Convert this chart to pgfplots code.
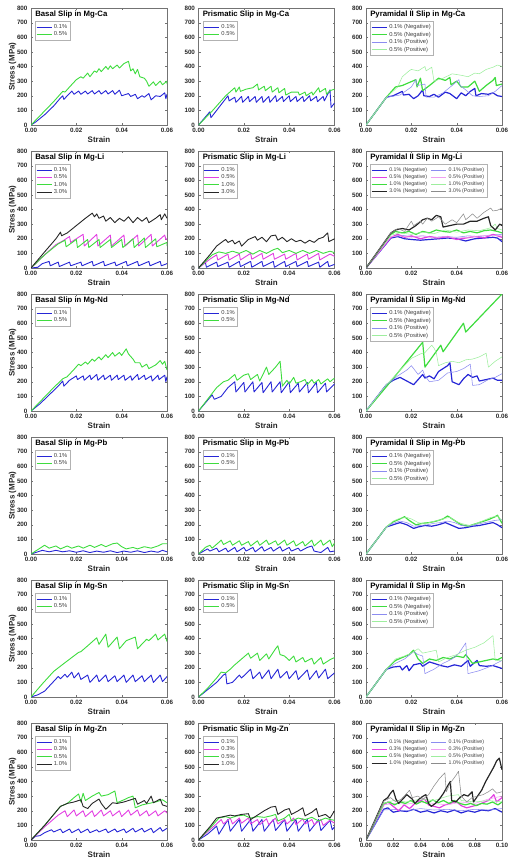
\documentclass[border=0pt]{standalone}
\usepackage{fontspec}
\setmainfont{Liberation Sans}
\usepackage{pgfplots}
\pgfplotsset{compat=1.18}
\usepgfplotslibrary{groupplots}
\definecolor{bluA}{HTML}{2626D6}
\definecolor{grnA}{HTML}{3EDC3E}
\definecolor{magA}{HTML}{E23FE2}
\definecolor{blkA}{HTML}{262626}
\definecolor{bluL}{HTML}{8C8CF0}
\definecolor{grnL}{HTML}{9EEE9E}
\definecolor{magL}{HTML}{F0A0F0}
\definecolor{blkL}{HTML}{8C8C8C}
\pgfplotsset{
  S/.style={line width=0.9bp},
  N/.style={line width=1.2bp},
  P/.style={line width=0.55bp},
}
\begin{document}
\begin{tikzpicture}
\begin{groupplot}[
  group style={group size=3 by 6, horizontal sep=31.5bp, vertical sep=26bp},
  scale only axis, width=136bp, height=117bp,
  xmin=0, xmax=0.06, ymin=0, ymax=800,
  xtick={0,0.02,0.04,0.06}, ytick={0,100,...,800},
  scaled x ticks=false,
  /pgf/number format/assume math mode=true,
  xticklabel style={/pgf/number format/fixed, /pgf/number format/fixed zerofill, /pgf/number format/precision=2},
  tick label style={font=\fontsize{6.3}{7}\bfseries\selectfont, text=black!85},
  xlabel={Strain},
  xlabel style={font=\fontsize{8}{9}\bfseries\selectfont, text=black!85, yshift=3bp},
  ylabel style={font=\fontsize{8}{9}\bfseries\selectfont, text=black!85, yshift=-6bp},
  axis line style={black!55}, tick style={black!55}, tick align=inside, major tick length=2bp,
  every axis title shift=0pt,
  title style={at={(0.03,0.975)}, anchor=north west, font=\fontsize{7.8}{8.5}\bfseries\selectfont, inner sep=0pt},
  legend style={at={(0.03,0.885)}, anchor=north west, draw=black!30, font=\fontsize{5.8}{6.4}\selectfont, text=black!75, inner sep=0.8bp, row sep=-2.2bp},
  legend cell align=left,
  legend image code/.code={\draw[#1] (0bp,0bp) -- (15bp,0bp);},
  no markers, every axis plot/.append style={line join=round},
]
% ---------------- Row 1: Mg-Ca ----------------
\nextgroupplot[title={Basal Slip in Mg-Ca}, ylabel={Stress (MPa)}]
\addplot[S,bluA] coordinates {(0,0)(0.002,20)(0.006,70)(0.010,130)(0.013,185)(0.014,200)(0.0145,175)(0.016,200)(0.018,232)(0.019,210)(0.021,232)(0.022,210)(0.024,232)(0.025,212)(0.027,235)(0.028,212)(0.030,235)(0.031,212)(0.033,235)(0.034,212)(0.036,235)(0.037,210)(0.039,238)(0.040,200)(0.043,215)(0.044,195)(0.046,210)(0.047,180)(0.049,200)(0.050,190)(0.052,215)(0.053,172)(0.055,200)(0.057,195)(0.059,220)(0.0595,180)(0.06,210)};
\addplot[S,grnA] coordinates {(0,0)(0.005,80)(0.010,160)(0.014,230)(0.015,225)(0.017,260)(0.020,310)(0.022,330)(0.023,320)(0.025,355)(0.026,330)(0.028,370)(0.029,360)(0.030,385)(0.031,365)(0.033,400)(0.034,380)(0.035,405)(0.036,385)(0.038,410)(0.039,390)(0.041,420)(0.043,435)(0.044,370)(0.045,385)(0.046,350)(0.047,380)(0.048,330)(0.050,320)(0.051,300)(0.052,265)(0.054,295)(0.055,270)(0.057,300)(0.058,275)(0.060,300)(0.060,280)};
\legend{0.1\%,0.5\%}
\nextgroupplot[title={Prismatic Slip in Mg-Ca}]
\addplot[S,bluA] coordinates {(0,0)(0.005,90)(0.0055,50)(0.009,120)(0.013,200)(0.0135,165)(0.016,190)(0.0165,155)(0.019,195)(0.0195,155)(0.022,195)(0.0225,160)(0.025,195)(0.0255,155)(0.028,195)(0.0285,155)(0.031,195)(0.0315,155)(0.034,200)(0.0345,160)(0.037,195)(0.0375,160)(0.040,200)(0.0405,160)(0.043,195)(0.0435,160)(0.046,195)(0.0465,160)(0.049,200)(0.0495,165)(0.052,195)(0.0525,160)(0.055,195)(0.0555,165)(0.058,240)(0.0585,120)(0.06,150)};
\addplot[S,grnA] coordinates {(0,0)(0.006,95)(0.012,200)(0.016,255)(0.0165,225)(0.018,260)(0.0185,230)(0.021,245)(0.024,255)(0.026,280)(0.0265,240)(0.029,265)(0.0295,235)(0.032,265)(0.0325,225)(0.035,255)(0.0355,220)(0.038,250)(0.0385,205)(0.041,225)(0.044,225)(0.0445,205)(0.047,225)(0.0475,200)(0.050,225)(0.0505,205)(0.053,255)(0.0535,225)(0.056,250)(0.0565,210)(0.058,235)(0.060,245)};
\legend{0.1\%,0.5\%}
\nextgroupplot[title={Pyramidal II Slip in Mg-Ca}]
\addplot[N,bluA] coordinates {(0,0)(0.009,190)(0.012,200)(0.016,230)(0.0165,205)(0.019,210)(0.021,180)(0.023,200)(0.025,240)(0.0255,200)(0.028,195)(0.030,210)(0.032,190)(0.035,225)(0.037,215)(0.040,180)(0.042,220)(0.044,200)(0.046,230)(0.048,250)(0.0485,200)(0.051,215)(0.054,210)(0.056,220)(0.058,200)(0.060,195)};
\addplot[N,grnA] coordinates {(0,0)(0.009,190)(0.013,260)(0.016,270)(0.019,290)(0.022,310)(0.0225,260)(0.024,320)(0.025,235)(0.028,270)(0.030,295)(0.032,320)(0.035,305)(0.037,325)(0.0375,275)(0.040,300)(0.042,260)(0.045,260)(0.048,300)(0.050,230)(0.053,270)(0.056,305)(0.057,325)(0.0575,270)(0.060,280)};
\addplot[P,bluL] coordinates {(0,0)(0.009,190)(0.015,205)(0.020,260)(0.022,310)(0.0225,270)(0.026,280)(0.0265,190)(0.030,190)(0.034,220)(0.038,270)(0.041,310)(0.0415,270)(0.044,240)(0.047,200)(0.050,195)(0.054,200)(0.057,230)(0.060,270)};
\addplot[P,grnL] coordinates {(0,0)(0.009,190)(0.014,260)(0.016,330)(0.019,370)(0.020,380)(0.023,370)(0.026,400)(0.0265,370)(0.029,395)(0.030,300)(0.034,320)(0.038,350)(0.042,340)(0.045,330)(0.048,355)(0.050,350)(0.053,380)(0.056,395)(0.058,410)(0.060,400)};
\legend{0.1\% (Negative),0.5\% (Negative),0.1\% (Positive),0.5\% (Positive)}
% ---------------- Row 2: Mg-Li ----------------
\nextgroupplot[title={Basal Slip in Mg-Li}, ylabel={Stress (MPa)}]
\addplot[S,bluA] coordinates {(0,0)(0.003,5)(0.005,30)(0.007,40)(0.008,45)(0.0085,15)(0.012,40)(0.0125,10)(0.017,40)(0.0175,15)(0.022,40)(0.0225,15)(0.027,45)(0.0275,15)(0.032,45)(0.0325,15)(0.037,40)(0.0375,15)(0.042,45)(0.0425,15)(0.047,45)(0.0475,15)(0.052,45)(0.0525,15)(0.057,45)(0.0575,15)(0.06,30)};
\addplot[S,magA] coordinates {(0,0)(0.006,90)(0.011,160)(0.014,185)(0.017,215)(0.0175,175)(0.020,200)(0.023,230)(0.0235,150)(0.029,230)(0.0295,150)(0.035,225)(0.0355,150)(0.041,225)(0.0415,150)(0.047,225)(0.0475,150)(0.053,230)(0.0535,150)(0.059,225)(0.0595,195)(0.06,200)};
\addplot[S,grnA] coordinates {(0,0)(0.006,90)(0.012,165)(0.015,190)(0.0155,145)(0.020,195)(0.0205,140)(0.025,195)(0.0255,140)(0.030,195)(0.0305,140)(0.035,195)(0.0355,140)(0.040,195)(0.0405,140)(0.045,200)(0.0455,140)(0.050,205)(0.0505,140)(0.055,200)(0.0555,145)(0.06,175)(0.06,150)};
\addplot[S,blkA] coordinates {(0,0)(0.006,110)(0.011,200)(0.013,245)(0.0135,220)(0.016,240)(0.020,290)(0.024,340)(0.027,375)(0.028,350)(0.029,370)(0.030,340)(0.032,355)(0.033,320)(0.035,345)(0.037,310)(0.039,340)(0.041,320)(0.043,350)(0.045,310)(0.047,345)(0.049,320)(0.051,345)(0.052,310)(0.055,340)(0.057,365)(0.0575,330)(0.059,370)(0.06,340)};
\legend{0.1\%,0.5\%,1.0\%,3.0\%}
\nextgroupplot[title={Prismatic Slip in Mg-Li}]
\addplot[S,bluA] coordinates {(0,0)(0.003,40)(0.0035,5)(0.008,40)(0.0085,10)(0.013,40)(0.0135,5)(0.018,45)(0.0185,10)(0.023,45)(0.0235,5)(0.028,45)(0.0285,10)(0.033,45)(0.0335,5)(0.038,45)(0.0385,10)(0.043,45)(0.0435,10)(0.048,45)(0.0485,10)(0.053,40)(0.0535,5)(0.057,45)(0.0575,10)(0.06,25)};
\addplot[S,magA] coordinates {(0,0)(0.005,60)(0.008,90)(0.0085,55)(0.013,95)(0.0135,55)(0.018,95)(0.0185,55)(0.023,100)(0.0235,60)(0.028,100)(0.0285,60)(0.033,100)(0.0335,60)(0.038,95)(0.0385,60)(0.043,100)(0.0435,55)(0.048,95)(0.0485,60)(0.053,100)(0.0535,55)(0.058,95)(0.06,80)};
\addplot[S,grnA] coordinates {(0,0)(0.006,90)(0.009,110)(0.012,100)(0.015,115)(0.018,100)(0.021,120)(0.024,95)(0.027,120)(0.030,100)(0.033,125)(0.035,135)(0.037,105)(0.040,120)(0.043,100)(0.046,120)(0.049,100)(0.052,120)(0.055,100)(0.058,115)(0.06,105)};
\addplot[S,blkA] coordinates {(0,0)(0.005,90)(0.008,150)(0.011,185)(0.012,195)(0.013,175)(0.015,190)(0.016,165)(0.018,185)(0.019,150)(0.022,195)(0.025,215)(0.026,190)(0.028,210)(0.030,180)(0.032,220)(0.034,225)(0.035,190)(0.037,210)(0.039,180)(0.041,200)(0.043,180)(0.045,190)(0.047,170)(0.049,190)(0.051,175)(0.053,200)(0.055,210)(0.057,240)(0.0575,180)(0.06,200)};
\legend{0.1\%,0.5\%,1.0\%,3.0\%}
\nextgroupplot[title={Pyramidal II Slip in Mg-Li}, legend columns=2, legend style={font=\fontsize{5.3}{6}\selectfont, /tikz/every even column/.append style={column sep=2bp}}]
\addplot[N,bluA] coordinates {(0,0)(0.011,205)(0.014,215)(0.017,200)(0.020,195)(0.024,190)(0.028,195)(0.032,200)(0.036,205)(0.040,200)(0.044,185)(0.048,200)(0.052,205)(0.056,210)(0.058,205)(0.06,180)};
\addplot[P,bluL] coordinates {(0,0)(0.011,210)(0.015,225)(0.020,215)(0.025,220)(0.030,210)(0.035,215)(0.040,210)(0.045,220)(0.050,215)(0.055,225)(0.06,230)};
\addplot[N,magA] coordinates {(0,0)(0.011,210)(0.014,230)(0.017,210)(0.020,220)(0.024,200)(0.028,215)(0.032,205)(0.036,215)(0.040,195)(0.044,205)(0.048,215)(0.052,205)(0.056,230)(0.06,210)};
\addplot[P,magL] coordinates {(0,0)(0.011,215)(0.015,220)(0.020,210)(0.025,220)(0.030,205)(0.035,215)(0.040,205)(0.045,210)(0.050,220)(0.055,225)(0.06,220)};
\addplot[N,grnA] coordinates {(0,0)(0.011,230)(0.013,250)(0.016,240)(0.019,250)(0.022,230)(0.025,250)(0.028,240)(0.031,260)(0.034,250)(0.037,245)(0.040,260)(0.043,240)(0.046,250)(0.049,240)(0.052,255)(0.055,260)(0.058,250)(0.06,240)};
\addplot[P,grnL] coordinates {(0,0)(0.011,225)(0.015,240)(0.020,230)(0.025,245)(0.030,235)(0.035,260)(0.040,245)(0.045,260)(0.050,255)(0.055,275)(0.057,300)(0.058,270)(0.06,260)};
\addplot[N,blkA] coordinates {(0,0)(0.011,240)(0.013,260)(0.016,270)(0.019,260)(0.022,290)(0.025,330)(0.027,340)(0.029,330)(0.031,360)(0.033,350)(0.034,280)(0.037,290)(0.040,300)(0.043,300)(0.046,320)(0.049,320)(0.052,340)(0.054,350)(0.055,290)(0.057,260)(0.059,300)(0.06,290)};
\addplot[P,blkL] coordinates {(0,0)(0.011,240)(0.014,270)(0.017,250)(0.020,320)(0.021,290)(0.024,320)(0.025,300)(0.027,340)(0.029,320)(0.032,350)(0.035,300)(0.038,330)(0.040,310)(0.043,370)(0.044,330)(0.047,370)(0.049,340)(0.052,380)(0.055,410)(0.056,390)(0.058,395)(0.06,410)};
\legend{0.1\% (Negative),0.1\% (Positive),0.5\% (Negative),0.5\% (Positive),1.0\% (Negative),1.0\% (Positive),3.0\% (Negative),3.0\% (Positive)}
% ---------------- Row 3: Mg-Nd ----------------
\nextgroupplot[title={Basal Slip in Mg-Nd}, ylabel={Stress (MPa)}]
\addplot[S,bluA] coordinates {(0,0)(0.004,50)(0.008,110)(0.012,170)(0.014,205)(0.0145,170)(0.017,210)(0.020,240)(0.0205,215)(0.023,240)(0.0235,210)(0.026,245)(0.0265,215)(0.029,250)(0.0295,210)(0.032,245)(0.0325,215)(0.035,245)(0.0355,210)(0.038,245)(0.0385,215)(0.041,245)(0.0415,210)(0.044,240)(0.0445,210)(0.047,250)(0.0475,215)(0.050,245)(0.0505,215)(0.053,240)(0.0535,205)(0.056,245)(0.0565,215)(0.059,245)(0.0595,200)(0.06,235)};
\addplot[S,grnA] coordinates {(0,0)(0.005,80)(0.010,160)(0.014,220)(0.016,235)(0.019,285)(0.021,320)(0.022,310)(0.024,335)(0.025,320)(0.027,355)(0.028,340)(0.030,370)(0.031,350)(0.033,385)(0.034,365)(0.036,400)(0.037,375)(0.039,400)(0.040,380)(0.042,425)(0.043,390)(0.045,355)(0.046,330)(0.048,330)(0.049,300)(0.051,320)(0.052,290)(0.055,315)(0.057,345)(0.058,320)(0.059,340)(0.06,280)};
\legend{0.1\%,0.5\%}
\nextgroupplot[title={Prismatic Slip in Mg-Nd}]
\addplot[S,bluA] coordinates {(0,0)(0.006,110)(0.007,80)(0.010,100)(0.013,160)(0.016,200)(0.0165,130)(0.020,195)(0.0205,130)(0.024,200)(0.0245,130)(0.028,195)(0.0285,125)(0.032,200)(0.0325,130)(0.036,200)(0.0365,125)(0.040,200)(0.0405,125)(0.044,190)(0.0445,130)(0.048,195)(0.0485,125)(0.052,195)(0.0525,125)(0.056,190)(0.0565,130)(0.06,185)};
\addplot[S,grnA] coordinates {(0,0)(0.005,100)(0.008,160)(0.011,200)(0.013,210)(0.016,250)(0.017,210)(0.020,245)(0.022,255)(0.023,215)(0.026,250)(0.027,205)(0.030,300)(0.031,250)(0.034,300)(0.036,340)(0.037,170)(0.039,210)(0.040,185)(0.042,230)(0.043,190)(0.045,200)(0.047,215)(0.048,180)(0.050,215)(0.051,190)(0.053,215)(0.054,185)(0.057,220)(0.058,200)(0.06,225)};
\legend{0.1\%,0.5\%}
\nextgroupplot[title={Pyramidal II Slip in Mg-Nd}]
\addplot[N,bluA] coordinates {(0,0)(0.009,180)(0.012,210)(0.015,230)(0.018,205)(0.021,180)(0.023,215)(0.025,250)(0.026,225)(0.028,240)(0.030,220)(0.032,270)(0.034,290)(0.036,310)(0.037,330)(0.038,200)(0.041,180)(0.043,220)(0.045,250)(0.047,230)(0.049,240)(0.050,205)(0.053,215)(0.056,225)(0.058,210)(0.06,210)};
\addplot[N,grnA] coordinates {(0,0)(0.010,185)(0.025,470)(0.026,300)(0.033,450)(0.034,405)(0.043,600)(0.044,540)(0.060,800)};
\addplot[P,bluL] coordinates {(0,0)(0.009,180)(0.014,240)(0.018,280)(0.020,310)(0.021,290)(0.023,250)(0.025,280)(0.026,240)(0.028,200)(0.032,210)(0.036,260)(0.040,270)(0.043,290)(0.046,320)(0.047,175)(0.050,180)(0.054,215)(0.057,230)(0.06,255)};
\addplot[P,grnL] coordinates {(0,0)(0.009,180)(0.020,360)(0.024,390)(0.026,400)(0.029,450)(0.030,430)(0.031,400)(0.032,310)(0.035,330)(0.038,340)(0.041,330)(0.044,350)(0.047,355)(0.050,370)(0.053,395)(0.054,300)(0.057,340)(0.06,370)};
\legend{0.1\% (Negative),0.5\% (Negative),0.1\% (Positive),0.5\% (Positive)}
% ---------------- Row 4: Mg-Pb ----------------
\nextgroupplot[title={Basal Slip in Mg-Pb}, ylabel={Stress (MPa)}]
\addplot[S,bluA] coordinates {(0,0)(0.003,15)(0.005,25)(0.008,15)(0.011,25)(0.014,15)(0.017,22)(0.020,12)(0.023,22)(0.026,10)(0.029,20)(0.032,12)(0.035,22)(0.038,10)(0.041,20)(0.044,12)(0.047,22)(0.050,10)(0.053,20)(0.056,12)(0.058,25)(0.06,15)};
\addplot[S,grnA] coordinates {(0,0)(0.004,40)(0.006,60)(0.008,40)(0.011,55)(0.013,35)(0.016,55)(0.018,40)(0.021,55)(0.023,40)(0.026,60)(0.028,45)(0.031,65)(0.033,50)(0.036,70)(0.038,75)(0.040,50)(0.042,35)(0.045,45)(0.047,35)(0.050,50)(0.053,40)(0.056,55)(0.058,70)(0.06,70)};
\legend{0.1\%,0.5\%}
\nextgroupplot[title={Prismatic Slip in Mg-Pb}]
\addplot[S,bluA] coordinates {(0,0)(0.004,35)(0.005,20)(0.008,40)(0.009,15)(0.012,40)(0.013,15)(0.016,45)(0.017,15)(0.020,45)(0.021,20)(0.024,45)(0.025,15)(0.028,50)(0.029,20)(0.032,45)(0.033,20)(0.036,50)(0.037,20)(0.040,45)(0.041,20)(0.044,40)(0.045,20)(0.048,45)(0.050,55)(0.051,20)(0.054,10)(0.057,45)(0.058,15)(0.06,20)};
\addplot[S,grnA] coordinates {(0,0)(0.003,45)(0.005,60)(0.006,40)(0.009,80)(0.010,95)(0.011,65)(0.014,90)(0.015,60)(0.018,90)(0.019,60)(0.022,85)(0.023,55)(0.026,90)(0.027,60)(0.030,95)(0.031,65)(0.034,90)(0.035,60)(0.038,95)(0.039,60)(0.042,90)(0.043,55)(0.046,85)(0.047,55)(0.050,95)(0.051,55)(0.054,95)(0.055,60)(0.058,95)(0.059,50)(0.06,75)};
\legend{0.1\%,0.5\%}
\nextgroupplot[title={Pyramidal II Slip in Mg-Pb}]
\addplot[N,bluA] coordinates {(0,0)(0.009,185)(0.012,200)(0.015,215)(0.018,200)(0.021,175)(0.023,185)(0.026,195)(0.029,190)(0.032,200)(0.035,215)(0.038,195)(0.041,175)(0.044,180)(0.047,190)(0.050,195)(0.053,205)(0.056,215)(0.058,200)(0.06,180)};
\addplot[N,grnA] coordinates {(0,0)(0.009,185)(0.012,220)(0.015,240)(0.017,255)(0.019,230)(0.022,200)(0.025,210)(0.028,215)(0.031,225)(0.034,240)(0.036,260)(0.039,230)(0.042,200)(0.045,190)(0.048,205)(0.051,220)(0.054,235)(0.057,255)(0.058,265)(0.06,210)};
\addplot[P,bluL] coordinates {(0,0)(0.009,185)(0.012,210)(0.015,225)(0.018,215)(0.021,190)(0.024,195)(0.027,200)(0.030,210)(0.033,215)(0.036,225)(0.039,215)(0.042,195)(0.045,190)(0.048,200)(0.051,210)(0.054,220)(0.057,230)(0.06,235)};
\addplot[P,grnL] coordinates {(0,0)(0.009,185)(0.012,225)(0.015,245)(0.018,250)(0.020,240)(0.023,215)(0.026,205)(0.029,220)(0.032,230)(0.035,245)(0.037,250)(0.040,220)(0.043,205)(0.046,195)(0.049,210)(0.052,230)(0.055,250)(0.058,260)(0.06,230)};
\legend{0.1\% (Negative),0.5\% (Negative),0.1\% (Positive),0.5\% (Positive)}
% ---------------- Row 5: Mg-Sn ----------------
\nextgroupplot[title={Basal Slip in Mg-Sn}, ylabel={Stress (MPa)}]
\addplot[S,bluA] coordinates {(0,0)(0.003,15)(0.006,40)(0.009,90)(0.012,140)(0.013,125)(0.015,155)(0.016,135)(0.018,170)(0.019,130)(0.021,165)(0.022,120)(0.025,150)(0.026,100)(0.029,150)(0.030,105)(0.033,150)(0.034,105)(0.037,145)(0.038,105)(0.041,150)(0.042,100)(0.045,150)(0.046,105)(0.049,145)(0.050,105)(0.053,150)(0.054,100)(0.057,150)(0.058,105)(0.06,140)};
\addplot[S,grnA] coordinates {(0,0)(0.005,90)(0.010,175)(0.015,235)(0.018,270)(0.021,305)(0.022,310)(0.025,350)(0.029,405)(0.030,360)(0.033,430)(0.034,340)(0.038,410)(0.039,330)(0.042,385)(0.046,410)(0.047,330)(0.051,395)(0.052,385)(0.055,430)(0.056,390)(0.059,430)(0.06,380)};
\legend{0.1\%,0.5\%}
\nextgroupplot[title={Prismatic Slip in Mg-Sn}]
\addplot[S,bluA] coordinates {(0,0)(0.004,50)(0.008,100)(0.011,150)(0.012,160)(0.0125,90)(0.015,100)(0.018,150)(0.019,130)(0.023,190)(0.024,125)(0.027,170)(0.028,125)(0.031,185)(0.032,125)(0.035,190)(0.036,130)(0.039,175)(0.040,125)(0.043,180)(0.044,120)(0.048,185)(0.049,120)(0.052,180)(0.053,130)(0.056,190)(0.057,125)(0.06,165)};
\addplot[S,grnA] coordinates {(0,0)(0.004,60)(0.008,130)(0.010,170)(0.012,165)(0.014,190)(0.016,220)(0.019,260)(0.022,300)(0.023,265)(0.026,300)(0.027,250)(0.030,295)(0.031,260)(0.034,330)(0.035,350)(0.036,290)(0.038,280)(0.040,250)(0.042,280)(0.043,240)(0.046,270)(0.047,240)(0.050,265)(0.051,225)(0.054,270)(0.055,225)(0.058,255)(0.06,270)};
\legend{0.1\%,0.5\%}
\nextgroupplot[title={Pyramidal II Slip in Mg-Sn}]
\addplot[N,bluA] coordinates {(0,0)(0.009,190)(0.012,205)(0.015,210)(0.016,185)(0.018,215)(0.019,180)(0.021,220)(0.024,230)(0.025,210)(0.028,240)(0.030,230)(0.033,215)(0.036,205)(0.039,220)(0.042,210)(0.045,250)(0.046,210)(0.049,250)(0.050,215)(0.053,210)(0.056,215)(0.058,205)(0.06,195)};
\addplot[N,grnA] coordinates {(0,0)(0.009,190)(0.013,250)(0.016,270)(0.019,290)(0.021,320)(0.023,260)(0.025,230)(0.028,260)(0.031,250)(0.034,270)(0.037,260)(0.040,280)(0.043,270)(0.044,290)(0.047,230)(0.050,240)(0.053,250)(0.056,260)(0.058,255)(0.06,270)};
\addplot[P,bluL] coordinates {(0,0)(0.009,190)(0.013,230)(0.017,260)(0.021,310)(0.023,290)(0.025,280)(0.026,160)(0.030,190)(0.034,230)(0.038,260)(0.041,300)(0.044,370)(0.045,160)(0.050,180)(0.055,210)(0.06,250)};
\addplot[P,grnL] coordinates {(0,0)(0.009,190)(0.013,260)(0.017,280)(0.020,300)(0.023,330)(0.025,300)(0.028,310)(0.031,320)(0.032,240)(0.036,270)(0.040,290)(0.044,320)(0.048,340)(0.052,370)(0.056,420)(0.057,250)(0.06,250)};
\legend{0.1\% (Negative),0.5\% (Negative),0.1\% (Positive),0.5\% (Positive)}
% ---------------- Row 6: Mg-Zn ----------------
\nextgroupplot[title={Basal Slip in Mg-Zn}, ylabel={Stress (MPa)}]
\addplot[S,bluA] coordinates {(0,0)(0.002,25)(0.004,30)(0.006,50)(0.009,70)(0.010,55)(0.013,75)(0.014,50)(0.017,75)(0.018,50)(0.021,75)(0.022,50)(0.025,75)(0.026,50)(0.029,70)(0.030,55)(0.033,75)(0.034,50)(0.037,75)(0.038,55)(0.041,75)(0.042,50)(0.045,80)(0.046,55)(0.049,80)(0.050,55)(0.053,80)(0.054,50)(0.057,85)(0.058,60)(0.06,80)};
\addplot[S,magA] coordinates {(0,0)(0.006,90)(0.012,170)(0.015,200)(0.016,160)(0.019,205)(0.020,165)(0.023,200)(0.024,160)(0.027,200)(0.028,160)(0.031,205)(0.032,165)(0.035,200)(0.036,165)(0.039,200)(0.040,160)(0.043,205)(0.044,170)(0.047,205)(0.048,165)(0.051,200)(0.052,165)(0.055,200)(0.056,165)(0.059,200)(0.06,185)};
\addplot[S,grnA] coordinates {(0,0)(0.006,100)(0.013,230)(0.016,250)(0.019,290)(0.021,315)(0.022,260)(0.023,320)(0.024,270)(0.027,300)(0.030,325)(0.031,300)(0.034,310)(0.037,335)(0.038,255)(0.041,275)(0.043,290)(0.045,300)(0.046,220)(0.049,240)(0.052,250)(0.055,260)(0.058,275)(0.06,255)};
\addplot[S,blkA] coordinates {(0,0)(0.006,100)(0.013,230)(0.016,250)(0.019,260)(0.022,275)(0.023,230)(0.025,215)(0.027,250)(0.030,280)(0.031,250)(0.033,210)(0.036,255)(0.038,250)(0.041,260)(0.044,275)(0.046,285)(0.047,245)(0.050,270)(0.051,250)(0.053,300)(0.054,255)(0.057,280)(0.058,240)(0.06,230)};
\legend{0.1\%,0.3\%,0.5\%,1.0\%}
\nextgroupplot[title={Prismatic Slip in Mg-Zn}]
\addplot[S,bluA] coordinates {(0,0)(0.004,40)(0.008,95)(0.009,40)(0.013,140)(0.014,60)(0.018,140)(0.019,60)(0.023,140)(0.024,60)(0.028,140)(0.029,60)(0.033,140)(0.034,65)(0.038,140)(0.039,60)(0.043,140)(0.044,60)(0.048,140)(0.049,60)(0.053,140)(0.054,65)(0.058,135)(0.059,70)(0.06,90)};
\addplot[S,magA] coordinates {(0,0)(0.005,70)(0.008,110)(0.010,140)(0.011,110)(0.014,150)(0.015,110)(0.018,150)(0.019,115)(0.022,150)(0.023,110)(0.026,140)(0.027,105)(0.030,145)(0.031,105)(0.034,150)(0.035,110)(0.038,140)(0.039,110)(0.042,150)(0.043,105)(0.046,145)(0.047,110)(0.050,140)(0.051,105)(0.054,140)(0.055,100)(0.058,135)(0.06,115)};
\addplot[S,grnA] coordinates {(0,0)(0.005,80)(0.009,150)(0.012,160)(0.014,150)(0.017,165)(0.020,170)(0.023,150)(0.026,160)(0.029,155)(0.032,165)(0.034,175)(0.035,130)(0.038,150)(0.040,175)(0.041,130)(0.044,150)(0.047,140)(0.050,155)(0.053,130)(0.056,150)(0.058,140)(0.06,135)};
\addplot[S,blkA] coordinates {(0,0)(0.005,90)(0.008,150)(0.011,160)(0.014,170)(0.016,165)(0.019,175)(0.022,180)(0.023,140)(0.026,170)(0.029,200)(0.032,225)(0.034,230)(0.035,175)(0.038,205)(0.040,215)(0.041,175)(0.044,200)(0.046,220)(0.047,165)(0.050,190)(0.052,215)(0.053,160)(0.056,175)(0.058,150)(0.06,200)};
\legend{0.1\%,0.3\%,0.5\%,1.0\%}
\nextgroupplot[title={Pyramidal II Slip in Mg-Zn}, xmax=0.10, xtick={0,0.02,0.04,0.06,0.08,0.10}, legend columns=2, legend style={draw=none, font=\fontsize{5.3}{6}\selectfont, /tikz/every even column/.append style={column sep=2bp}}]
\addplot[N,bluA] coordinates {(0,0)(0.013,210)(0.016,220)(0.020,190)(0.025,200)(0.030,195)(0.035,210)(0.040,190)(0.045,200)(0.050,185)(0.055,200)(0.060,190)(0.065,205)(0.070,185)(0.075,200)(0.080,190)(0.085,205)(0.090,200)(0.095,215)(0.100,190)};
\addplot[P,bluL] coordinates {(0,0)(0.013,205)(0.020,210)(0.030,200)(0.040,215)(0.050,205)(0.060,210)(0.070,200)(0.080,210)(0.090,205)(0.100,215)};
\addplot[N,magA] coordinates {(0,0)(0.013,240)(0.016,260)(0.020,230)(0.024,200)(0.028,240)(0.032,215)(0.036,250)(0.040,270)(0.043,280)(0.046,240)(0.050,230)(0.054,220)(0.058,240)(0.062,250)(0.066,265)(0.070,235)(0.074,220)(0.078,230)(0.082,240)(0.086,255)(0.090,270)(0.094,310)(0.096,260)(0.100,290)};
\addplot[P,magL] coordinates {(0,0)(0.013,240)(0.020,250)(0.030,245)(0.040,260)(0.050,250)(0.060,240)(0.070,260)(0.080,250)(0.090,280)(0.100,300)};
\addplot[N,grnA] coordinates {(0,0)(0.013,250)(0.017,260)(0.021,240)(0.025,260)(0.029,250)(0.033,270)(0.037,245)(0.041,265)(0.045,250)(0.049,275)(0.053,255)(0.057,270)(0.061,250)(0.065,270)(0.069,250)(0.073,240)(0.077,250)(0.081,235)(0.085,250)(0.089,245)(0.093,260)(0.097,240)(0.100,260)};
\addplot[P,grnL] coordinates {(0,0)(0.013,250)(0.020,270)(0.030,260)(0.040,280)(0.050,270)(0.060,300)(0.068,310)(0.070,270)(0.080,260)(0.090,270)(0.100,260)};
\addplot[N,blkA] coordinates {(0,0)(0.013,270)(0.016,290)(0.018,320)(0.020,340)(0.022,280)(0.024,250)(0.027,280)(0.030,310)(0.032,295)(0.034,280)(0.036,250)(0.039,280)(0.042,300)(0.044,310)(0.046,250)(0.048,230)(0.051,250)(0.054,280)(0.057,320)(0.060,370)(0.062,400)(0.063,270)(0.066,260)(0.069,290)(0.072,310)(0.075,300)(0.078,330)(0.079,260)(0.082,300)(0.085,340)(0.088,400)(0.091,450)(0.094,500)(0.096,540)(0.098,560)(0.099,520)(0.100,480)};
\addplot[P,blkL] coordinates {(0,0)(0.013,265)(0.018,290)(0.022,260)(0.026,280)(0.030,320)(0.032,340)(0.034,290)(0.038,300)(0.042,280)(0.046,310)(0.050,370)(0.054,420)(0.058,460)(0.059,330)(0.062,390)(0.066,440)(0.068,470)(0.070,300)(0.074,260)(0.078,290)(0.082,300)(0.086,310)(0.090,330)(0.093,350)(0.096,320)(0.100,330)};
\legend{0.1\% (Negative),0.1\% (Positive),0.3\% (Negative),0.3\% (Positive),0.5\% (Negative),0.5\% (Positive),1.0\% (Negative),1.0\% (Positive)}
\end{groupplot}
\pgfresetboundingbox
\path ([shift={(-31bp,8bp)}]group c1r1.north west) rectangle ([shift={(25bp,-24bp)}]group c3r6.south east);
\end{tikzpicture}
\end{document}
